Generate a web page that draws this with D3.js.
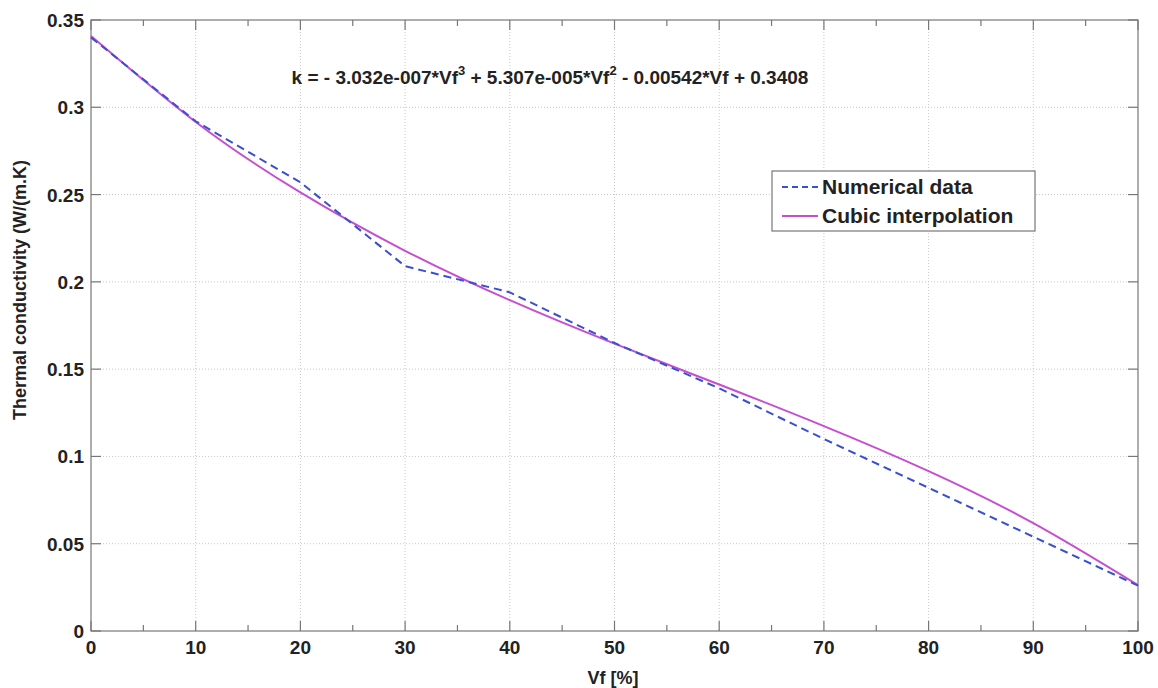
<!DOCTYPE html>
<html>
<head>
<meta charset="utf-8">
<script src="https://cdn.jsdelivr.net/npm/d3@7"></script>
<style>
  body { margin: 0; background: #fff; }
  text { font-family: "Liberation Sans", Arial, sans-serif; font-weight: bold; fill: #222; }
</style>
</head>
<body>
<svg id="chart" width="1158" height="688"></svg>
<script>
// values
var vf = [0, 10, 20, 30, 40, 50, 60, 70, 80, 90, 100];
var numerical = [0.340, 0.292, 0.257, 0.209, 0.194, 0.165, 0.139, 0.110, 0.082, 0.054, 0.026];
var cubic = [0.3408, 0.2916, 0.2512, 0.2178, 0.1895, 0.1646, 0.1412, 0.1174, 0.0916, 0.0618, 0.0263];
var xTicks = [0, 10, 20, 30, 40, 50, 60, 70, 80, 90, 100];
var xMinor = [5, 15, 25, 35, 45, 55, 65, 75, 85, 95];
var yTicks = [0, 0.05, 0.1, 0.15, 0.2, 0.25, 0.3, 0.35];
var seriesNames = ["Numerical data", "Cubic interpolation"];

var svg = d3.select("#chart");
// plot box edges (don't call it "top", that's window.top)
var pLeft = 91, pRight = 1138, pTop = 20, pBottom = 631;

var x = d3.scaleLinear().domain([0, 100]).range([pLeft, pRight]);
var y = d3.scaleLinear().domain([0, 0.35]).range([pBottom, pTop]);

// grid
var grid = svg.append("g").attr("class", "grid");
grid.selectAll("line.gx")
    .data(xTicks.slice(1, -1))
    .enter().append("line")
    .attr("x1", function (d) { return x(d); })
    .attr("x2", function (d) { return x(d); })
    .attr("y1", pTop).attr("y2", pBottom)
    .attr("stroke", "#c8c8c8").attr("stroke-dasharray", "1,2");
grid.selectAll("line.gy")
    .data(yTicks.slice(1, -1))
    .enter().append("line")
    .attr("y1", function (d) { return y(d); })
    .attr("y2", function (d) { return y(d); })
    .attr("x1", pLeft).attr("x2", pRight)
    .attr("stroke", "#c8c8c8").attr("stroke-dasharray", "1,2");

// box
svg.append("rect")
    .attr("x", pLeft).attr("y", pTop)
    .attr("width", pRight - pLeft).attr("height", pBottom - pTop)
    .attr("fill", "none").attr("stroke", "#777").attr("stroke-width", 1.2);

// inward ticks, all four sides
var ticks = svg.append("g").attr("stroke", "#777").attr("stroke-width", 1.2);
xTicks.forEach(function (d) {
    ticks.append("line").attr("x1", x(d)).attr("x2", x(d)).attr("y1", pBottom).attr("y2", pBottom - 10);
    ticks.append("line").attr("x1", x(d)).attr("x2", x(d)).attr("y1", pTop).attr("y2", pTop + 10);
});
xMinor.forEach(function (d) {
    ticks.append("line").attr("x1", x(d)).attr("x2", x(d)).attr("y1", pBottom).attr("y2", pBottom - 6);
    ticks.append("line").attr("x1", x(d)).attr("x2", x(d)).attr("y1", pTop).attr("y2", pTop + 6);
});
yTicks.forEach(function (d) {
    ticks.append("line").attr("y1", y(d)).attr("y2", y(d)).attr("x1", pLeft).attr("x2", pLeft + 10);
    ticks.append("line").attr("y1", y(d)).attr("y2", y(d)).attr("x1", pRight).attr("x2", pRight - 10);
});

// tick labels
svg.selectAll("text.xl")
    .data(xTicks)
    .enter().append("text")
    .attr("x", function (d) { return x(d); })
    .attr("y", pBottom + 23)
    .attr("text-anchor", "middle")
    .attr("font-size", 19)
    .text(function (d) { return d; });
svg.selectAll("text.yl")
    .data(yTicks)
    .enter().append("text")
    .attr("x", pLeft - 7)
    .attr("y", function (d) { return y(d) + 7; })
    .attr("text-anchor", "end")
    .attr("font-size", 19)
    .text(function (d) { return d; });

// axis titles
svg.append("text")
    .attr("x", 613).attr("y", 684)
    .attr("text-anchor", "middle").attr("font-size", 18)
    .text("Vf [%]");
svg.append("text")
    .attr("transform", "translate(26,290) rotate(-90)")
    .attr("text-anchor", "middle").attr("font-size", 18)
    .text("Thermal conductivity (W/(m.K)");

// lines
var line = d3.line()
    .x(function (d, i) { return x(vf[i]); })
    .y(function (d) { return y(d); });

svg.append("path")
    .datum(cubic)
    .attr("d", line.curve(d3.curveNatural))
    .attr("fill", "none").attr("stroke", "#c64fd0").attr("stroke-width", 2);

svg.append("path")
    .datum(numerical)
    .attr("d", line.curve(d3.curveLinear))
    .attr("fill", "none").attr("stroke", "#3a50cc").attr("stroke-width", 2)
    .attr("stroke-dasharray", "8,5");

// equation
var eq = svg.append("text").attr("x", 550).attr("y", 84)
    .attr("text-anchor", "middle").attr("font-size", 19);
eq.append("tspan").text("k = - 3.032e-007*Vf");
eq.append("tspan").attr("font-size", 13).attr("dy", -9).text("3");
eq.append("tspan").attr("dy", 9).text(" + 5.307e-005*Vf");
eq.append("tspan").attr("font-size", 13).attr("dy", -9).text("2");
eq.append("tspan").attr("dy", 9).text(" - 0.00542*Vf + 0.3408");

// legend
var lg = svg.append("g").attr("transform", "translate(772,171)");
lg.append("rect").attr("width", 263).attr("height", 60)
    .attr("fill", "#fff").attr("stroke", "#777").attr("stroke-width", 1.2);
var styles = [{ c: "#3a50cc", dash: "6,4" }, { c: "#c64fd0", dash: null }];
seriesNames.forEach(function (name, i) {
    var yy = 16 + i * 29;
    lg.append("line").attr("x1", 10).attr("x2", 46).attr("y1", yy).attr("y2", yy)
        .attr("stroke", styles[i].c).attr("stroke-width", 2)
        .attr("stroke-dasharray", styles[i].dash);
    lg.append("text").attr("x", 50).attr("y", yy + 7)
        .attr("font-size", 21).text(name);
});
</script>
</body>
</html>
